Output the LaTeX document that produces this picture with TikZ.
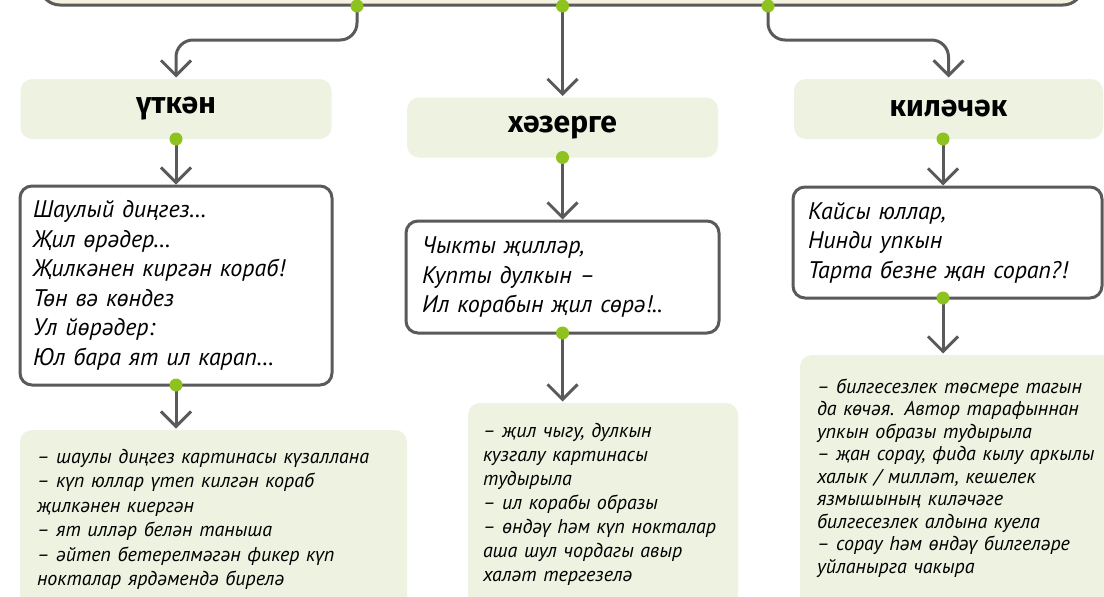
\documentclass[tikz,border=0pt]{standalone}
\usepackage{fontspec}
\setmainfont{PT Sans}
\newfontfamily\hfont{Fira Sans}
\usetikzlibrary{arrows.meta}
\definecolor{lgray}{HTML}{5A5A5A}
\definecolor{lgreen}{HTML}{8DC21F}
\definecolor{hfill}{HTML}{EEF2E0}
\definecolor{tfill}{HTML}{F4F2DF}
\begin{document}
\begin{tikzpicture}[x=1pt,y=-1pt,
 conn/.style={draw=lgray,line width=3pt,rounded corners=17pt,shorten >=1.5pt,-{Straight Barb[length=15pt,width=30pt]}},
 dot/.style={circle,fill=lgreen,minimum size=13pt,inner sep=0pt,outer sep=0pt},
 hbox/.style={rectangle,rounded corners=12pt,fill=hfill,minimum width=311pt,minimum height=60pt,inner sep=0pt,outer sep=0pt,font=\hfont\fontsize{30}{36}\selectfont\bfseries},
 wbox/.style={rectangle,rounded corners=12pt,draw=lgray,line width=3pt,fill=white,inner ysep=0pt,outer sep=0pt,align=left,font=\fontsize{24}{29.5}\selectfont\itshape},
 gbox/.style={rectangle,rounded corners=12pt,fill=hfill,inner sep=0pt,outer sep=0pt},
 gtext/.style={inner sep=0pt,outer sep=0pt,align=left,anchor=base west,font=\fontsize{20}{24.5}\selectfont\itshape}
]
\useasboundingbox (0,0) rectangle (1104,597);
\clip (0,0) rectangle (1104,597);
\fill[white] (0,0) rectangle (1104,597);

% top box
\node[rectangle,rounded corners=20pt,draw=lgray,fill=tfill,line width=3pt,minimum width=1043pt,minimum height=80pt,inner sep=0pt,outer sep=0pt,anchor=south west] (top) at (40,5) {};

% headers
\node[hbox] (h1) at (176,109) {үткән};
\node[hbox] (h2) at (562.5,127.5) {хәзерге};
\node[hbox,minimum width=309pt] (h3) at (948.5,109) {киләчәк};

% white boxes
\node[wbox,inner xsep=13pt,text width=286pt,minimum height=199pt] (w1) at (176,285.5) {Шаулый диңгез…\\Җил өрәдер…\\Җилкәнен киргән кораб!\\Төн вә көндез\\Ул йөрәдер:\\Юл бара ят ил карап…};
\node[wbox,inner xsep=16pt,text width=281pt,minimum height=112pt] (w2) at (562.5,277) {Чыкты җилләр,\\Купты дулкын –\\Ил корабын җил сөрә!..};
\node[wbox,inner xsep=15pt,text width=279pt,minimum height=111pt] (w3) at (947.5,242.5) {Кайсы юллар,\\Нинди упкын\\Тарта безне җан сорап?!};

% green boxes
\node[gbox,minimum width=387pt,minimum height=180pt,anchor=north west] (g1) at (20,430) {};
\node[gbox,minimum width=270pt,minimum height=205pt,anchor=north west] (g2) at (468,403) {};
\node[gbox,minimum width=320pt,minimum height=255pt,anchor=north west] (g3) at (800,355) {};
\node[gtext,text width=365pt] (t1) at (37,463) {– шаулы диңгез картинасы күзаллана\\– күп юллар үтеп килгән кораб\\җилкәнен киергән\\– ят илләр белән таныша\\– әйтеп бетерелмәгән фикер күп\\нокталар ярдәмендә бирелә};
\node[gtext,text width=250pt,font=\fontsize{20}{24}\selectfont\itshape] (t2) at (483,437) {– җил чыгу, дулкын\\кузгалу картинасы\\тудырыла\\– ил корабы образы\\– өндәү һәм күп нокталар\\аша шул чордагы авыр\\халәт тергезелә};
\node[gtext,text width=285pt,font=\fontsize{20}{22.5}\selectfont\itshape] (t3) at (817,393) {– билгесезлек төсмере тагын\\да көчәя. Автор тарафыннан\\упкын образы тудырыла\\– җан сорау, фида кылу аркылы\\халык / милләт, кешелек\\язмышының киләчәге\\билгесезлек алдына куела\\– сорау һәм өндәү билгеләре\\уйланырга чакыра};

% coordinates
\coordinate (p1) at (357,6);
\coordinate (p2) at (562.5,6);
\coordinate (p3) at (768,6);
\coordinate (c3) at (943,139);

% connectors
\draw[conn] (p1) -- (p1 |- 0,40) -- (h1.north |- 0,40) -- (h1.north);
\draw[conn] (p2) -- (h2.north);
\draw[conn] (p3) -- (p3 |- 0,40) -- (h3.north |- 0,40) -- (h3.north);
\draw[conn] (h1.south) -- (w1.north);
\draw[conn] (h2.south) -- (w2.north);
\draw[conn] (c3) -- (c3 |- w3.north);
\draw[conn] (w1.south) -- (w1.south |- g1.north);
\draw[conn] (w2.south) -- (w2.south |- g2.north);
\draw[conn] (c3 |- w3.south) -- (c3 |- g3.north);

% dots
\node[dot] (d1) at (p1) {};
\node[dot] (d2) at (p2) {};
\node[dot] (d3) at (p3) {};
\node[dot] (d4) at (h1.south) {};
\node[dot] (d5) at (h2.south) {};
\node[dot] (d6) at (c3) {};
\node[dot] (d7) at (w1.south) {};
\node[dot] (d8) at (w2.south) {};
\node[dot] (d9) at (c3 |- w3.south) {};
\end{tikzpicture}
\end{document}
